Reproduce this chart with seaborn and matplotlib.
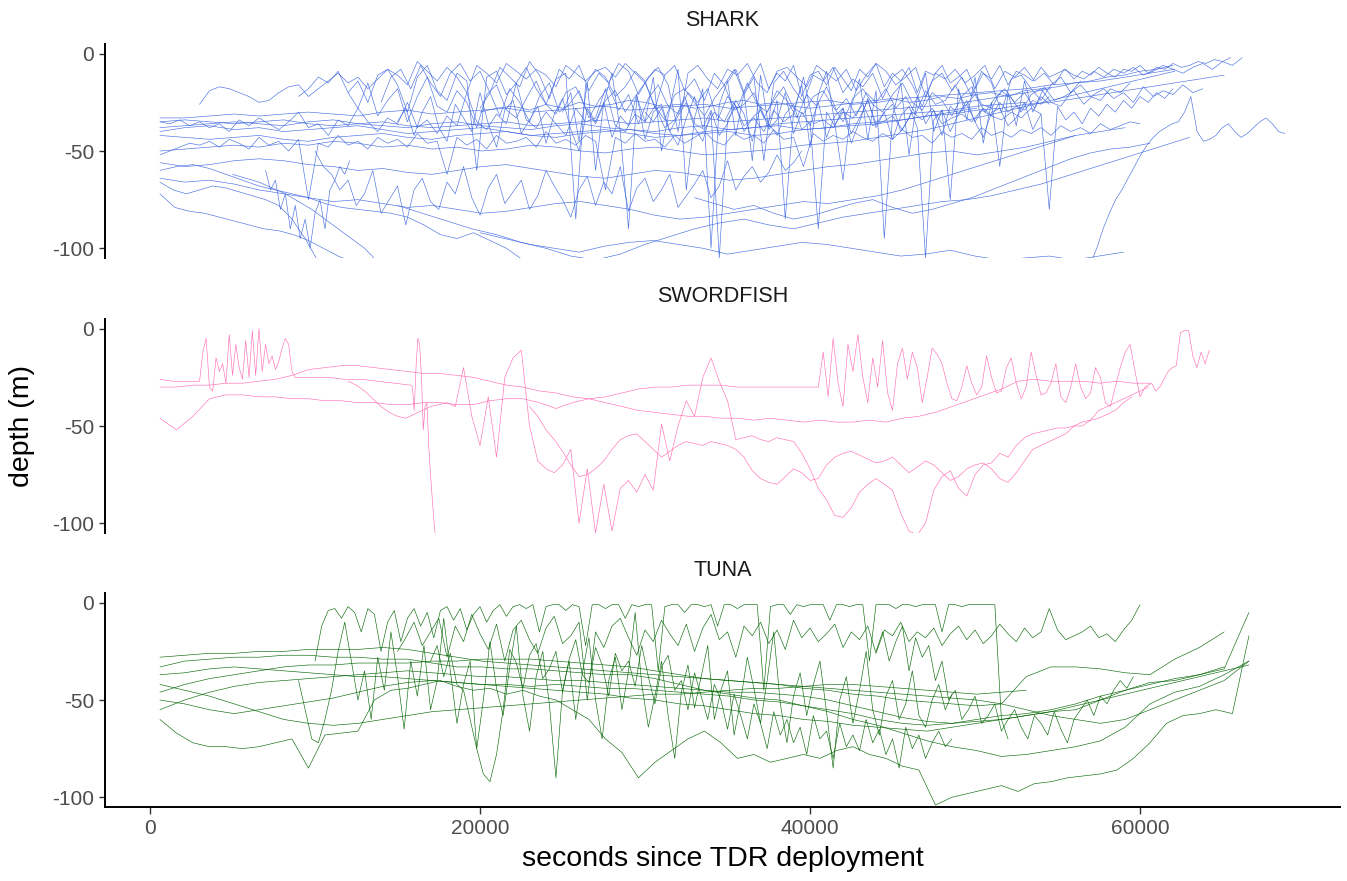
import matplotlib
matplotlib.use("Agg")
import numpy as np
import pandas as pd
import matplotlib.pyplot as plt
import seaborn as sns

# ---------------- data (depth in m) ----------------
# each segment: start time (s), sampling interval (s), depth values
species = ["SHARK", "SWORDFISH", "TUNA"]
colors = {"SHARK": "#4169E1", "SWORDFISH": "#FF69B4", "TUNA": "#006400"}

# SHARK
sk01 = [-72, -79, -81, -82, -84, -86, -88, -90, -91, -93, -96, -100, -104, -107]
sk02 = [-66, -70, -72, -70, -68, -69, -71, -73, -75, -78, -85, -95, -107]
sk03 = [-60, -58, -57, -59, -62, -65, -68, -70, -72, -74, -77, -79, -80, -81, -82, -84, -88, -93, -95, -92, -96, -100, -106]
sk04 = [-64, -66, -65, -67, -70, -72, -74, -76, -75, -77, -79, -78, -80, -82, -81, -79, -77, -76, -78, -80, -83, -85, -84, -82, -80, -78, -76, -77, -75, -73, -70, -66, -62, -58, -54, -50, -46, -42]
sk05 = [-56, -58, -57, -55, -54, -55, -57, -58, -60, -59, -61, -62, -60, -58, -57, -59, -61, -63, -64, -62, -60, -61, -63, -65, -64, -62, -60, -58, -57, -55, -53, -51, -50, -52, -50, -48, -45, -42, -40, -38]
sk06 = [-50, -49, -48, -47, -48, -46, -47, -45, -46, -48, -47, -49, -48, -50, -49, -47, -48, -50, -51, -49, -48, -50, -52, -51, -50, -49, -47, -46, -45, -43, -41, -39, -36, -33, -30, -27, -24, -21, -18, -15, -12, -9]
sk07 = [-42, -43, -44, -43, -42, -44, -45, -43, -42, -41, -43, -44, -42, -41, -40, -42, -43, -41, -40, -39, -41, -42, -40, -39, -38, -37, -39, -38, -36, -35, -34, -32, -31, -29, -28, -26, -25, -23, -21, -19, -17, -15, -13, -11]
sk08 = [-38, -37, -36, -35, -36, -37, -35, -34, -36, -37, -38, -36, -35, -37, -38, -39, -37, -36, -38, -39, -40, -38, -37, -39, -38, -36, -35, -34, -33, -32, -31, -30, -29, -27, -26, -25]
sk09 = [-33, -33, -32, -31, -32, -31, -30, -31, -32, -30, -29, -31, -30, -29, -28, -30, -29, -28, -27, -29, -28, -27, -26, -28, -27, -26, -25, -24, -26, -25, -23, -22, -21, -20, -19, -18, -16, -15, -14, -12, -10, -8]
sk10 = [-92, -95, -98, -100, -102, -99, -97, -96, -98, -100, -103, -101, -99, -97, -98, -100, -102, -104, -103, -101, -104, -106, -105, -104, -106, -104, -102]
sk11 = [-108, -100, -90, -82, -75, -70, -64, -58, -52, -47, -43, -40, -38, -36, -35, -30, -22, -40, -45, -44, -42, -38, -36, -40, -43, -41, -38, -35, -33, -36, -40, -41]
sk12 = [-78, -82, -86, -90, -93, -97, -100, -104, -106, -103, -98, -94, -90, -87, -85, -88, -90, -87, -84, -82, -80, -78, -76, -75, -73, -70, -67, -63, -59, -55, -51, -47, -43]
sk13 = [-62, -64, -66, -69, -72, -76, -80, -85, -90, -95, -100, -107]
sk14 = [-74, -77, -80, -78, -82, -85, -83, -80, -77, -75, -79, -82, -80, -77, -74, -70, -66, -62, -58, -54, -51, -49, -48, -46]
sk15 = [-30, -28, -27, -29, -26, -28, -25, -27, -26, -24, -25, -27, -26, -28, -27, -25, -24, -26, -25, -27, -28, -27, -26, -25, -24, -23, -25, -24, -22, -23, -21, -20, -22, -19, -18, -17, -15, -14, -12, -11, -9, -8, -6]
sk16 = [-35, -34, -35, -36, -35, -34, -36, -37, -36, -35, -37, -38, -37, -36, -35, -37, -36, -35, -34, -36, -35, -34, -33, -35, -34, -33, -32, -31, -30, -29, -28, -27, -26, -24, -22, -20, -18]
sk17 = [-40, -38, -37, -39, -38, -40, -39, -38, -37, -39, -41, -40, -39, -38, -40, -42, -41, -40, -39, -41, -43, -42, -41, -40, -42, -41, -39, -38, -37, -36, -34, -32, -30, -28]
sp01 = [-22, -18, -12, -15, -9, -20, -14, -25, -11, -8, -16, -30, -12, -6, -19, -24, -10, -14, -60, -12, -9, -21, -15, -7, -18, -26, -13, -10, -85, -16, -8, -12, -22, -17, -9, -14, -28, -11, -6, -19, -13, -24, -10, -16, -8, -21, -12, -55, -15, -9, -18, -25, -11, -14, -7, -20, -13, -17, -10, -23, -12, -8, -16, -27, -14, -10, -19, -12, -22, -9, -15, -30, -13, -11, -18, -24, -16, -12, -20, -14]
sp02 = [-25, -12, -8, -18, -6, -15, -22, -10, -5, -14, -9, -20, -7, -12, -17, -4, -11, -23, -8, -13, -6, -19, -10, -15, -5, -9, -21, -12, -7, -16, -40, -10, -6, -13, -18, -8, -11, -5, -15, -20, -9, -7, -12, -17, -6, -10, -14, -8, -19, -11, -5, -9, -16, -12, -7, -22, -10, -13, -8, -15, -11, -6, -18, -9, -12, -7, -14, -10, -16, -8, -11, -13, -9, -12, -8, -10, -7, -11, -9, -6, -8, -10, -7, -5, -8, -4, -6, -2]
sp03 = [-35, -36, -34, -37, -35, -38, -36, -40, -34, -37, -33, -36, -39, -35, -30, -38, -36, -42, -34, -37, -28, -35, -40, -33, -36, -25, -38, -34, -41, -32, -37, -20, -35, -39, -31, -36, -15, -34, -38, -30, -36, -42, -28, -35, -33, -18, -37, -40, -31, -35, -27, -38, -34, -22, -36, -39, -30, -35, -25, -37, -33, -40, -29, -35, -31, -12, -36, -34, -38, -30, -33, -26, -37, -35, -32, -39, -30, -34, -28, -36, -33, -31, -35, -29, -32, -34, -30, -33, -28, -31]
sp04 = [-52, -50, -48, -46, -47, -45, -48, -44, -46, -49, -43, -47, -45, -50, -44, -75, -46, -48, -42, -47, -45, -49, -43, -46, -44, -48, -41, -46, -45, -62, -43, -47, -44, -49, -42, -46, -45, -43, -48, -40, -46, -44, -47, -42, -45, -70, -43, -46, -41, -45, -44, -48, -42, -46, -43, -40, -45, -47, -41, -44, -42, -46, -39, -44, -43, -58, -41, -45, -42, -44, -40, -43, -45, -41, -44, -39, -43, -42, -46, -40, -43, -41, -44, -38, -42, -40, -43, -39, -41, -38, -42, -37, -40, -38, -41, -36, -39, -37, -35, -36]
sp05 = [-50, -58, -62, -70, -65, -78, -72, -60, -82, -75, -68, -88, -70, -64, -76, -80, -66, -72, -58, -74, -83, -69, -62, -77, -71, -65, -80, -73, -60, -68, -75, -84, -70, -63, -78, -66, -72, -58, -81, -69, -64, -76, -70, -62, -79, -73, -67, -60, -74, -68, -55, -70, -63, -58, -66, -61, -52, -60, -56, -50]
sp06 = [-28, -20, -32, -18, -25, -35, -22, -15, -30, -26, -19, -33, -24, -17, -29, -21, -36, -23, -16, -27, -31, -20, -25, -18, -34, -22, -28, -15, -26, -30, -19, -24, -33, -21, -27, -17, -29, -23, -32, -20, -25, -18, -28, -22, -31, -19, -26, -24, -16, -27, -21, -30, -23, -18, -25, -20, -28, -17, -24, -22, -19, -26, -21, -18, -23, -20, -25, -17, -22, -19, -21, -16, -20, -18]
sp07 = [-30, -20, -45, -15, -60, -25, -10, -40, -90, -22, -35, -12, -50, -28, -8, -70, -33, -18, -100, -26, -14, -42, -20, -55, -11, -38, -24, -85, -30, -16, -48, -21, -9, -36, -65, -27, -13, -44, -19, -95, -32, -15, -52, -23, -10, -40, -29, -75, -18, -34, -12, -46, -25, -58, -20, -37, -14, -30, -22, -26]
sp08 = [-26, -19, -17, -18, -20, -22, -25, -24, -20, -17, -16, -22, -18, -14, -10, -15, -12, -18, -13, -8, -11, -16, -4, -9, -14, -7, -12, -20, -6, -10, -15, -5, -9, -13, -8, -11, -17, -6, -10, -14, -9, -7, -12, -5, -10, -15, -8, -11]
sp09 = [-30, -35, -28, -40, -32, -25, -38, -45, -30, -105, -34, -27, -40, -33, -29, -36, -42, -31, -26, -39, -35, -90, -30, -37, -28, -41, -33, -24, -36, -30, -44, -32, -27, -38, -105, -34, -29, -40, -31, -26, -35, -43, -30, -28, -37, -33, -25, -39, -31, -80, -27, -34, -30, -36, -28, -32, -26, -30, -24, -28, -22, -25, -20, -23, -18]
sp10 = [-60, -70, -65, -80, -72, -90, -78, -95, -85, -100, -82, -75, -90, -70, -65, -58, -62, -55]
sp11 = [-20, -28, -15, -32, -24, -18, -35, -22, -12, -27, -30, -19, -25, -38, -21, -16, -29, -33, -23, -14, -26, -31, -20, -17, -28, -36, -24, -19, -30, -22, -15, -27, -34, -21, -18, -25, -32, -23, -16, -29, -26, -20, -33, -24, -17, -28, -31, -22, -19, -27, -35, -23, -18, -26, -30, -21, -15, -25, -29, -20, -24, -32, -22, -17, -26, -28, -19, -23, -30, -21, -18, -25, -27, -20, -16, -22, -24, -18, -20, -15]
sp12 = [-35, -28, -42, -30, -22, -38, -45, -26, -33, -40, -20, -36, -48, -29, -24, -41, -34, -27, -46, -31, -23, -39, -50, -28, -35, -25, -43, -32, -37, -21, -44, -30, -26, -40, -47, -33, -22, -38, -29, -42, -36, -24, -31, -45, -27, -39, -34, -20, -41, -30, -37, -25, -43, -32, -28, -46, -35, -23, -38, -30, -26, -40, -33, -22, -36, -29, -42, -27, -31, -24, -35, -28, -32, -25, -30, -27, -29, -24, -26, -22]
sp13 = [-15, -8, -20, -12, -5, -18, -10, -14, -6, -22, -11, -9, -16, -7, -13, -19, -8, -12, -5, -17, -10, -14, -7, -20, -9, -11, -6, -15, -12, -8, -18, -10, -13, -6, -16, -9, -11, -14, -7, -12, -10, -8, -13, -9, -11, -7, -10, -12, -8, -9, -6, -10, -7, -8, -5, -7, -6, -4, -5, -3, -4, -2]

# SWORDFISH
sw01 = [-30, -30, -29, -29, -28, -28, -27, -26, -24, -21, -20, -19, -19, -20, -21, -22, -23, -23, -24, -25, -27, -29, -30, -32, -33, -35, -36, -38, -40, -42, -43, -44, -45, -45, -46, -46, -47, -46, -47, -48, -47, -48, -48, -47, -48, -46, -45, -43, -40, -37, -34, -31, -27, -26, -27, -27, -27, -28, -27, -28, -28]
sw02a = [-46, -52, -45, -36, -34, -34, -35, -35, -36, -36, -37, -37, -38, -38, -39, -39, -38, -38, -39, -39, -37, -36, -36, -38, -41, -38, -36, -35, -33, -31, -30, -30, -29, -29, -29, -30, -30, -30, -30, -30]
sw02b = [-30, -12, -35, -5, -28, -40, -8, -22, -3, -25, -38, -15, -30, -6, -33, -42, -18, -10, -26, -12, -20, -38, -25, -10, -13, -18, -28, -36, -37, -30, -19, -28, -34, -30, -14, -25, -33, -32, -20, -15, -28, -36, -30, -12, -24, -34, -33, -28, -18, -35, -38, -30, -18, -30, -36, -33, -20, -25, -38, -40, -30, -20, -12, -8, -22, -35, -30]
sw02c = [-28, -32, -30, -26, -22, -20, -19, -2, -1, -1, -14, -20, -12, -18, -11]
sw03a = [-26, -27, -27, -27]
sw03b = [-27, -12, -5, -30, -32, -15, -22, -18, -28, -3, -24, -8, -20, -26, -6, -25, -1, -24, 0, -22, -8, -18, -14, -21, -17, -10, -5, -8, -22]
sw03c = [-25, -25, -25, -26, -26, -27, -28, -29]
sw03d = [-30, -42, -20, -5, -8, -25, -52, -40, -38, -60, -75, -88, -100, -110]
sw04 = [-27, -29, -32, -36, -40, -43, -45, -46, -44, -42, -40, -39, -38, -40, -20, -45, -60, -35, -66, -25, -15, -11, -50, -68, -72, -74, -70, -62, -100, -72, -105, -80, -104, -82, -78, -84, -75, -83, -49, -68, -50, -37, -45, -25, -15, -27, -37, -57, -56, -55, -57, -58, -56, -57, -58, -64, -72, -82, -88, -96, -97, -92, -84, -80, -77, -80, -83, -95, -104, -106, -100, -83, -76, -73, -82, -86, -75, -70, -69, -64, -66, -60, -56, -54, -53, -52, -51, -51, -50, -48, -47, -46, -44, -42, -38, -35]
sw05 = [-40, -45, -52, -57, -63, -70, -76, -75, -72, -68, -62, -57, -55, -54, -58, -62, -66, -63, -60, -58, -59, -60, -58, -59, -60, -62, -66, -73, -77, -79, -80, -76, -72, -74, -78, -77, -70, -66, -64, -63, -65, -67, -69, -68, -66, -70, -74, -71, -68, -70, -74, -78, -76, -72, -70, -69, -72, -77, -79, -74, -68, -62, -60, -58, -56, -54, -50, -50, -47, -42, -40, -38, -36, -34, -32, -30]

# TUNA
tn01 = [-28, -27, -26, -26, -25, -25, -24, -24, -24, -23, -24, -26, -28, -30, -31, -32, -33, -34, -35, -36, -37, -38, -39, -40, -41, -42, -43, -44, -45, -46, -47, -48, -49, -50, -52, -55, -58, -60, -62, -60, -55, -50, -45, -40, -30]
tn02 = [-33, -30, -29, -28, -28, -27, -27, -28, -28, -29, -29, -31, -33, -33, -34, -34, -35, -36, -37, -37, -39, -42, -45, -47, -49, -50, -53, -56, -60, -63, -67, -71, -74, -76, -79, -78, -76, -74, -71, -64, -52, -46, -43, -37, -30]
tn03 = [-37, -36, -34, -33, -34, -35, -36, -37, -38, -38, -39, -40, -41, -42, -43, -44, -45, -46, -47, -49, -50, -52, -53, -55, -57, -58, -60, -61, -63, -64, -65, -66, -64, -62, -60, -58, -56, -53, -50, -47, -44, -41, -38, -35, -32]
tn04 = [-60, -67, -72, -74, -74, -75, -74, -72, -70, -85, -68, -67, -66, -50, -45, -44, -42, -40, -43, -45, -44, -47, -45, -48, -50, -55, -60, -70, -77, -90, -82, -76, -70, -66, -72, -80, -78, -82, -80, -78, -80, -76, -74, -78, -80, -84, -86, -104, -100, -98, -96, -94, -97, -93, -92, -90, -89, -88, -86, -80, -72, -62, -58, -57, -55, -57, -17]
tn05 = [-46, -42, -39, -37, -35, -33, -32, -32, -31, -31, -31, -30, -30, -29, -29, -29, -30, -31, -32, -33, -35, -37, -39, -40, -41, -42, -44, -45, -47, -48, -50, -51, -52, -53, -52, -38, -33, -33, -34, -36, -37, -29, -23, -15]
tn06 = [-50, -52, -55, -57, -55, -53, -51, -49, -46, -43, -41, -40, -41, -42, -42, -43, -42, -43, -44, -44, -45, -46, -47, -48, -50, -51, -53, -55, -57, -60, -62, -63, -62, -60, -58, -57, -55, -52, -48, -45, -42, -39, -37, -34, -5]
tn07 = [-55, -50, -46, -43, -41, -40, -39, -38, -37, -36, -35, -36, -37, -38, -38, -39, -40, -40, -41, -42, -43, -44, -45, -46, -46, -47, -48, -50, -53, -56, -59, -61, -62, -61, -60, -58, -56, -55, -50, -45, -41, -40, -37, -33]
tn08 = [-42, -45, -48, -52, -56, -60, -62, -63, -62, -60, -58, -56, -55, -54, -53, -52, -51, -50, -49, -48, -47, -47, -46, -45, -44, -44, -43, -42, -42, -43, -44, -45, -46, -47, -46, -45]
ts01 = [-30, -12, -4, -3, -8, -2, -5, -15, -3, -6, -25, -10, -4, -20, -8, -3, -12, -5, -18, -4, -2, -9, -3, -14, -6, -2, -10, -4, -1, -7, -2, -1, -3, -1, -15, -2, -1, -1, -4, -1, -2, -22, -1, -1, -3, -1, -1, -8, -1, -2, -1, -1, -35, -2, -1, -1, -5, -1, -1, -2, -1, -12, -1, -1, -3, -1, -1, -1, -45, -2, -1, -1, -6, -1, -2, -1, -1, -1, -9, -1, -1, -2, -1, -1, -30, -1, -1, -1, -3, -1, -1, -2, -1, -1, -1, -15, -1, -1, -2, -1, -1, -1, -1, -1, -60, -70]
ts02 = [-25, -18, -10, -22, -15, -8, -28, -12, -20, -6, -16, -24, -11, -30, -14, -9, -19, -26, -13, -7, -21, -17, -10, -50, -15, -23, -12, -8, -18, -27, -14, -20, -9, -16, -22, -11, -25, -13, -6, -19, -15, -28, -12, -17, -10, -21, -14, -24, -9, -18, -13, -20, -16, -11, -23, -15, -19, -12, -26, -14, -17, -10, -20, -15, -18, -13, -22, -16, -12, -19, -14, -21, -17, -11, -16, -20, -13, -18, -15, -3, -14, -19, -17, -15, -12, -18, -16, -20, -14, -9, -1]
ts03 = [-40, -55, -70, -72, -60, -45, -25, -10, -30, -50, -35, -60, -28, -45, -15, -38, -65, -30, -48, -22, -55, -40, -8, -35, -62, -42, -30, -75, -50, -20, -44, -58, -33, -12, -48, -66, -38, -25, -52, -90, -45, -30, -60, -36, -18, -50, -70, -40, -28, -55, -35, -5, -42, -64, -48, -30, -58, -80, -46, -32, -54, -38, -22, -60, -45, -35, -68, -50, -28, -44, -62, -40, -15, -52, -72, -48, -36, -58, -42, -30, -56, -85, -50, -38, -62, -45, -25, -55, -68, -48, -40, -60, -52, -35, -58, -64, -50, -42, -55, -47]
ts04 = [-30, -22, -38, -26, -42, -45, -60, -75, -88, -92, -78, -55, -24, -31, -44, -27, -21, -39, -34, -25, -46, -29, -19, -37, -41, -23, -32, -48, -26, -35, -30, -43, -22, -38, -52, -33, -27, -45, -40, -55, -36, -48, -60, -42, -50, -65, -47, -58, -70, -52, -62, -75, -56, -68, -60, -72, -64, -78, -58, -70, -66, -80, -62, -74, -68, -76, -60, -72, -65, -78, -70, -85, -64, -75, -68, -80, -72, -66, -74, -70]
ts05 = [-25, -15, -30, -20, -12, -35, -18, -28, -22, -40, -30, -50, -45, -60, -55, -48, -62, -58, -52, -66, -60, -55, -64, -70, -58, -62, -68, -56, -65, -72, -60, -55, -50, -58, -48, -52, -45, -40, -44, -38]

# track table: (species, track id, [(start s, interval s, values), ...])
tracks = [
    ("SHARK", "sk01", [(600, 900, sk01)]),
    ("SHARK", "sk02", [(600, 800, sk02)]),
    ("SHARK", "sk03", [(600, 1000, sk03)]),
    ("SHARK", "sk04", [(600, 1500, sk04)]),
    ("SHARK", "sk05", [(600, 1500, sk05)]),
    ("SHARK", "sk06", [(600, 1500, sk06)]),
    ("SHARK", "sk07", [(600, 1500, sk07)]),
    ("SHARK", "sk08", [(600, 1500, sk08)]),
    ("SHARK", "sk09", [(600, 1500, sk09)]),
    ("SHARK", "sk10", [(20000, 1500, sk10)]),
    ("SHARK", "sk11", [(57000, 380, sk11)]),
    ("SHARK", "sk12", [(15000, 1500, sk12)]),
    ("SHARK", "sk13", [(5000, 800, sk13)]),
    ("SHARK", "sk14", [(33000, 1200, sk14)]),
    ("SHARK", "sk15", [(20000, 1000, sk15)]),
    ("SHARK", "sk16", [(600, 1500, sk16)]),
    ("SHARK", "sk17", [(600, 1500, sk17)]),
    ("SHARK", "sp01", [(9000, 600, sp01)]),
    ("SHARK", "sp02", [(14000, 600, sp02)]),
    ("SHARK", "sp03", [(600, 600, sp03)]),
    ("SHARK", "sp04", [(600, 600, sp04)]),
    ("SHARK", "sp05", [(10000, 500, sp05)]),
    ("SHARK", "sp06", [(20000, 600, sp06)]),
    ("SHARK", "sp07", [(25000, 500, sp07)]),
    ("SHARK", "sp08", [(3000, 600, sp08)]),
    ("SHARK", "sp09", [(30000, 500, sp09)]),
    ("SHARK", "sp10", [(7000, 300, sp10)]),
    ("SHARK", "sp11", [(12000, 600, sp11)]),
    ("SHARK", "sp12", [(15000, 500, sp12)]),
    ("SHARK", "sp13", [(35000, 500, sp13)]),
    ("SWORDFISH", "sw01", [(600, 1000, sw01)]),
    ("SWORDFISH", "sw02", [(600, 1000, sw02a), (40500, 300, sw02b), (60700, 250, sw02c)]),
    ("SWORDFISH", "sw03", [(600, 800, sw03a), (3000, 200, sw03b), (8800, 1000, sw03c), (15900, 110, sw03d)]),
    ("SWORDFISH", "sw04", [(12000, 500, sw04)]),
    ("SWORDFISH", "sw05", [(23000, 500, sw05)]),
    ("TUNA", "tn01", [(600, 1500, tn01)]),
    ("TUNA", "tn02", [(600, 1500, tn02)]),
    ("TUNA", "tn03", [(600, 1500, tn03)]),
    ("TUNA", "tn04", [(600, 1000, tn04)]),
    ("TUNA", "tn05", [(600, 1500, tn05)]),
    ("TUNA", "tn06", [(600, 1500, tn06)]),
    ("TUNA", "tn07", [(600, 1500, tn07)]),
    ("TUNA", "tn08", [(600, 1500, tn08)]),
    ("TUNA", "ts01", [(10000, 400, ts01)]),
    ("TUNA", "ts02", [(15000, 500, ts02)]),
    ("TUNA", "ts03", [(9000, 400, ts03)]),
    ("TUNA", "ts04", [(17000, 400, ts04)]),
    ("TUNA", "ts05", [(44000, 400, ts05)]),
]

y_ticks = [0, -50, -100]
y_tick_labels = ["0", "-50", "-100"]
x_ticks = [0, 20000, 40000, 60000]
x_tick_labels = ["0", "20000", "40000", "60000"]

# ---------------- build long table ----------------
rows = []
for sp, tid, segs in tracks:
    for t0, step, vals in segs:
        for i, d in enumerate(vals):
            rows.append((sp, tid, t0 + step * i, d))
df = pd.DataFrame(rows, columns=["species", "track", "t", "depth"])

# ---------------- plot ----------------
sns.set_style("white")
plt.rcParams["font.family"] = ["Liberation Sans", "DejaVu Sans"]
plt.rcParams["axes.unicode_minus"] = False

W, H = 1347, 881
fig = plt.figure(figsize=(W / 100, H / 100), dpi=100)
left, right = 105, 1340
tops = [44, 319, 593]
ph = 214

for k, sp in enumerate(species):
    top = tops[k]
    ax = fig.add_axes([left / W, 1 - (top + ph) / H, (right - left) / W, ph / H])
    sub = df[df.species == sp]
    sns.lineplot(data=sub, x="t", y="depth", units="track", estimator=None,
                 sort=False, color=colors[sp], linewidth=0.45, alpha=0.95,
                 legend=False, ax=ax)
    ax.set_xlim(-2730, 72120)
    ax.set_ylim(-105, 5)
    ax.set_xlabel("")
    ax.set_ylabel("")
    ax.set_yticks(y_ticks)
    ax.set_yticklabels(y_tick_labels)
    for s in ["top", "right"]:
        ax.spines[s].set_visible(False)
    ax.spines["left"].set_linewidth(1.4)
    ax.spines["left"].set_color("black")
    ax.tick_params(axis="y", length=4, width=1.0, color="#333333",
                   labelsize=15, labelcolor="#4D4D4D", pad=4, left=True)
    if k < 2:
        ax.spines["bottom"].set_visible(False)
        ax.set_xticks([])
    else:
        ax.spines["bottom"].set_linewidth(1.4)
        ax.spines["bottom"].set_color("black")
        ax.set_xticks(x_ticks)
        ax.set_xticklabels(x_tick_labels)
        ax.tick_params(axis="x", length=5, width=1.0, color="#333333",
                       labelsize=15, labelcolor="#4D4D4D", pad=4, bottom=True)
    fig.text((left + right) / 2 / W, 1 - (top - 23) / H, sp, ha="center",
             va="center", fontsize=15.5, color="#1A1A1A")

fig.text((left + right) / 2 / W, 1 - 859 / H, "seconds since TDR deployment",
         ha="center", va="center", fontsize=20.5, color="black")
fig.text(22 / W, 1 - 426 / H, "depth (m)", ha="center", va="center",
         rotation=90, fontsize=20.5, color="black")

fig.savefig("out.png", dpi=100)
